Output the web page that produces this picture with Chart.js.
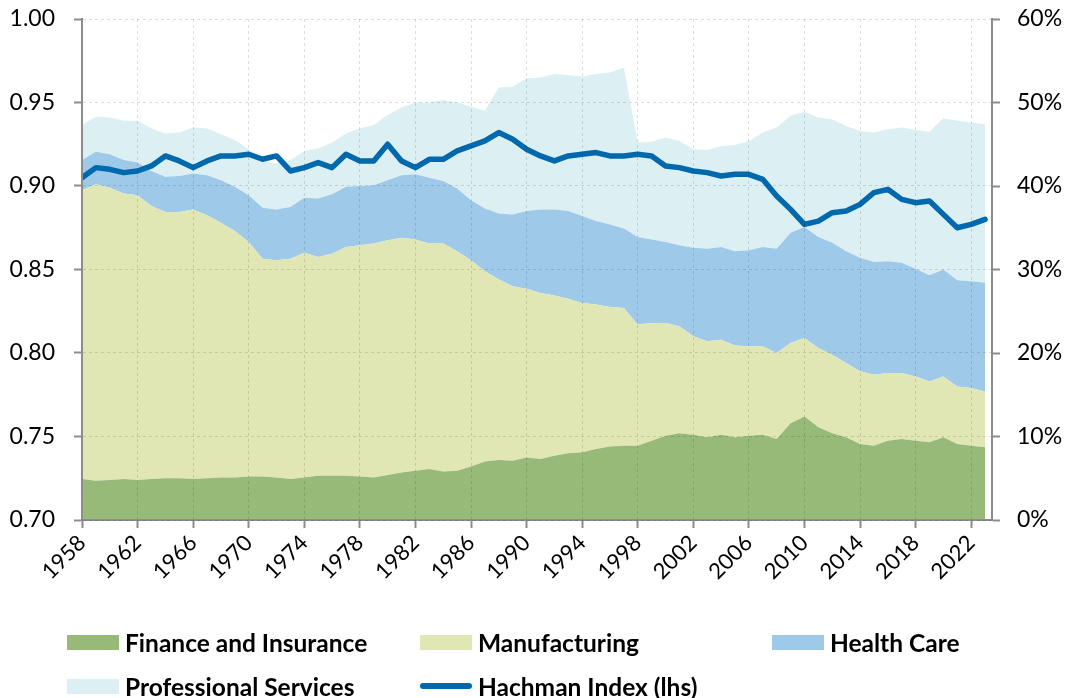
<!DOCTYPE html>
<html><head><meta charset="utf-8">
<script src="https://cdn.jsdelivr.net/npm/chart.js@4"></script>
<style>
html,body{margin:0;padding:0;background:#fff;}
#wrap{position:relative;width:1069px;height:698px;overflow:hidden;}
canvas{position:absolute;left:0;top:0;}
#legend{position:absolute;left:0;top:0;width:1069px;height:698px;pointer-events:none;font-family:Lato,'Open Sans',sans-serif;font-weight:700;font-size:24.5px;color:#000;}
.li{position:absolute;display:flex;align-items:center;white-space:nowrap;height:30px;}
.sw{width:52px;height:15px;margin-right:6px;}
.ln{width:52px;height:6px;border-radius:3px;margin-right:6px;}
</style></head>
<body><div id="wrap"><canvas id="c" width="1069" height="698"></canvas><div id="legend"></div></div>
<script>
const years = [1958,1959,1960,1961,1962,1963,1964,1965,1966,1967,
  1968,1969,1970,1971,1972,1973,1974,1975,1976,1977,
  1978,1979,1980,1981,1982,1983,1984,1985,1986,1987,
  1988,1989,1990,1991,1992,1993,1994,1995,1996,1997,
  1998,1999,2000,2001,2002,2003,2004,2005,2006,2007,
  2008,2009,2010,2011,2012,2013,2014,2015,2016,2017,
  2018,2019,2020,2021,2022,2023];
const tickYears = [1958,1962,1966,1970,1974,1978,1982,1986,1990,1994,1998,2002,2006,2010,2014,2018,2022];
const leftTicks = [0.70,0.75,0.80,0.85,0.90,0.95,1.00];
const rightTicks = [0,10,20,30,40,50,60];

// shares of output (%), right axis, stacked
const finance = [4.9,4.7,4.8,4.9,4.8,4.9,5.0,5.0,4.9,5.0,
  5.1,5.1,5.2,5.2,5.1,4.9,5.1,5.3,5.3,5.3,
  5.2,5.1,5.4,5.7,5.9,6.1,5.8,5.9,6.4,7.0,
  7.2,7.1,7.5,7.3,7.7,8.0,8.1,8.5,8.8,8.9,
  8.9,9.5,10.1,10.4,10.2,9.9,10.2,9.9,10.1,10.2,
  9.7,11.6,12.4,11.1,10.4,9.9,9.1,8.9,9.5,9.7,
  9.5,9.3,9.9,9.1,8.9,8.7];
const manufacturing = [34.6,35.5,35.0,34.2,34.1,32.7,31.9,31.9,32.3,31.5,
  30.5,29.5,28.1,26.1,26.0,26.4,26.9,26.2,26.6,27.4,
  27.7,28.0,28.1,28.1,27.7,27.0,27.3,26.3,24.7,22.8,
  21.6,20.9,20.2,19.9,19.2,18.5,17.9,17.3,16.7,16.5,
  14.5,14.1,13.5,12.8,11.8,11.5,11.4,11.0,10.7,10.6,
  10.3,9.6,9.4,9.5,9.4,8.9,8.7,8.5,8.1,7.9,
  7.7,7.3,7.3,6.9,6.9,6.7];
const healthCare = [3.6,3.9,4.0,4.0,3.9,4.2,4.2,4.3,4.3,4.8,
  5.1,5.3,5.6,6.1,6.1,6.2,6.6,7.0,7.1,7.2,
  7.1,7.0,7.2,7.5,7.8,7.9,7.5,7.5,7.2,7.5,
  7.9,8.6,9.3,10.0,10.3,10.5,10.4,10.0,9.9,9.5,
  10.5,10.0,9.7,9.7,10.6,11.1,11.1,11.3,11.5,11.9,
  12.5,13.2,13.3,13.3,13.4,13.4,13.6,13.5,13.4,13.2,
  12.9,12.7,12.8,12.7,12.8,13.0];
const professional = [4.2,4.2,4.4,4.7,5.0,5.1,5.2,5.2,5.5,5.6,
  5.5,5.6,5.5,5.6,5.5,5.6,5.6,6.0,6.2,6.4,
  6.9,7.2,7.8,8.1,8.6,9.0,9.7,10.3,11.2,11.7,
  15.1,15.3,15.9,15.8,16.2,16.3,16.7,17.6,18.2,19.3,
  11.3,11.7,12.5,12.5,11.8,11.8,12.1,12.7,13.1,13.7,
  14.5,14.0,13.8,14.3,14.8,15.0,15.2,15.5,15.8,16.2,
  16.6,17.2,18.1,19.1,19.0,19.0];
// Hachman index, left axis
const hachman = [0.905,0.911,0.910,0.908,0.909,0.912,0.918,0.915,0.911,0.915,
  0.918,0.918,0.919,0.916,0.918,0.909,0.911,0.914,0.911,0.919,
  0.915,0.915,0.925,0.915,0.911,0.916,0.916,0.921,0.924,0.927,
  0.932,0.928,0.922,0.918,0.915,0.918,0.919,0.920,0.918,0.918,
  0.919,0.918,0.912,0.911,0.909,0.908,0.906,0.907,0.907,0.904,
  0.894,0.886,0.877,0.879,0.884,0.885,0.889,0.896,0.898,0.892,
  0.890,0.891,0.883,0.875,0.877,0.880];

const pts = arr => years.map((y,i)=>({x:y,y:arr[i]}));
const FONT = "Lato, 'Open Sans', sans-serif";
const AXIS = '#8c8c8c';
const GRID = 'rgba(0,0,0,0.13)';

const area = (label, arr, color, fill) => ({
  type:'line', label, data: pts(arr), yAxisID:'y2', backgroundColor: color, borderColor: color,
  borderWidth: 0, pointRadius: 0, fill, tension: 0, order: 1
});

const datasets = [
  area('Finance and Insurance', finance, '#97ba78', 'origin'),
  area('Manufacturing', manufacturing, '#e1e6b5', '-1'),
  area('Health Care', healthCare, '#9fc9e8', '-1'),
  area('Professional Services', professional, '#dceff2', '-1'),
  {type:'line', label:'Hachman Index (lhs)', data: pts(hachman), yAxisID:'y', borderColor:'#0068ad',
   backgroundColor:'#0068ad', borderWidth:5.5, pointRadius:0, fill:false, tension:0, order:0,
   borderJoinStyle:'round', borderCapStyle:'round'}
];

const legendPos = [[67,642],[420,642],[772,642],[67,686],[420,686]];
const htmlLegend = {
  id:'htmlLegend',
  afterUpdate(chart){
    const box = document.getElementById('legend');
    box.innerHTML = '';
    chart.data.datasets.forEach((ds,i)=>{
      const p = legendPos[i];
      const item = document.createElement('div');
      item.className = 'li';
      item.style.left = p[0]+'px';
      item.style.top = (p[1]-15)+'px';
      const sw = document.createElement('span');
      sw.className = ds.yAxisID==='y' ? 'ln' : 'sw';
      sw.style.background = ds.yAxisID==='y' ? ds.borderColor : ds.backgroundColor;
      const t = document.createElement('span');
      t.textContent = ds.label;
      item.appendChild(sw); item.appendChild(t);
      box.appendChild(item);
    });
  }
};

const fixPad = s => { s.paddingTop = 12; s.paddingBottom = 12; };

new Chart(document.getElementById('c'), {
  data: { datasets },
  options: {
    responsive:false, animation:false, devicePixelRatio:1,
    layout:{padding:{top:19,left:0,right:0,bottom:0}},
    plugins:{legend:{display:false}, title:{display:false}, tooltip:{enabled:false}},
    scales:{
      x:{type:'linear', min:1958, max:2023.5, offset:false,
        afterBuildTicks: s => { s.ticks = tickYears.map(v=>({value:v})); },
        afterFit: s => { s.height = 178; },
        ticks:{font:{family:FONT,size:22}, color:'#000', minRotation:45, maxRotation:45, padding:2,
          callback: v => String(v)},
        grid:{color:GRID, z:1, drawTicks:true, tickLength:8, tickColor:AXIS, tickWidth:2, tickBorderDash:[]},
        border:{color:AXIS, width:2, dash:[3,3], z:1}
      },
      y:{type:'linear', position:'left', min:0.70, max:1.00,
        afterBuildTicks: s => { s.ticks = leftTicks.map(v=>({value:v})); },
        afterFit: s => { s.width = 82; fixPad(s); },
        ticks:{font:{family:FONT,size:23}, color:'#000', padding:19, callback: v => Number(v).toFixed(2)},
        grid:{color:GRID, z:1, drawTicks:true, tickLength:8, tickColor:AXIS, tickWidth:2, tickBorderDash:[]},
        border:{color:AXIS, width:2, dash:[3,3], z:1}
      },
      y2:{type:'linear', position:'right', min:0, max:60, stacked:true,
        afterBuildTicks: s => { s.ticks = rightTicks.map(v=>({value:v})); },
        afterFit: s => { s.width = 77; fixPad(s); },
        ticks:{font:{family:FONT,size:23}, color:'#000', padding:17, callback: v => v + '%'},
        grid:{drawOnChartArea:false, z:1, drawTicks:true, tickLength:8, tickColor:AXIS, tickWidth:2, tickBorderDash:[]},
        border:{color:AXIS, width:2, z:1}
      }
    }
  },
  plugins:[htmlLegend]
});
</script>
</body></html>
